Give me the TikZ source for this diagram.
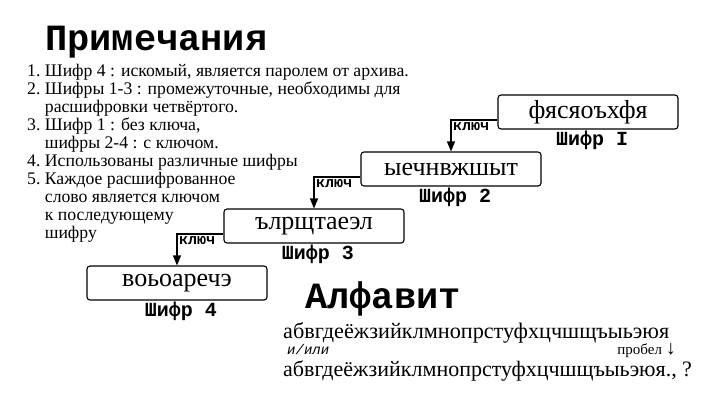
\documentclass[tikz,border=0pt]{standalone}
\usepackage{fontspec}
\setmainfont{Liberation Serif}
\setmonofont{Liberation Mono}
\usetikzlibrary{positioning,arrows.meta}
\tikzset{
  cipher/.style={draw,line width=1.1pt,rounded corners=3pt,minimum width=180pt,minimum height=34pt,inner sep=2pt,font=\fontsize{26}{26}\selectfont},
  ciphername/.style={inner sep=0pt,font=\ttfamily\bfseries\fontsize{20}{20}\selectfont},
  keylabel/.style={inner sep=1.5pt,font=\ttfamily\bfseries\fontsize{15}{15}\selectfont},
  heading/.style={inner sep=0pt,font=\ttfamily\bfseries\fontsize{37}{37}\selectfont},
  plain/.style={inner sep=0pt,font=\fontsize{17.7}{18}\selectfont},
}

\begin{document}
\begin{tikzpicture}[x=1pt,y=-1pt,on grid,>={Triangle[width=8pt,length=10pt]}]
\useasboundingbox (0,0) rectangle (711,400);
% notes
\node[heading,anchor=base west] (notetitle) at (45,50) {Примечания};
\node[plain,anchor=base west] (notes) at (27,76) {%
  \begin{tabular}[t]{@{}r@{\ }l@{}}
  1. & Шифр 4 : искомый, является паролем от архива.\\
  2. & Шифры 1-3 : промежуточные, необходимы для\\
     & расшифровки четвёртого.\\
  3. & Шифр 1 : без ключа,\\
     & шифры 2-4 : с ключом.\\
  4. & Использованы различные шифры\\
  5. & Каждое расшифрованное\\
     & слово является ключом\\
     & к последующему\\
     & шифру
  \end{tabular}};
% ciphers
\node[cipher] (c1) at (588,112) {фясяоъхфя};
\node[cipher] (c2) [below left=57pt and 137pt of c1] {ыечнвжшыт};
\node[cipher] (c3) [below left=57pt and 137pt of c2] {ълрщтаеэл};
\node[cipher] (c4) [below left=57pt and 137pt of c3] {воьоаречэ};
\node[ciphername] (n1) [below right=28pt and 4pt of c1] {Шифр I};
\node[ciphername] (n2) [below right=28pt and 4pt of c2] {Шифр 2};
\node[ciphername] (n3) [below right=28pt and 4pt of c3] {Шифр 3};
\node[ciphername] (n4) [below right=28pt and 4pt of c4] {Шифр 4};
\draw[->,line width=1.1pt] ([yshift=-8pt]c1.west) -| node[pos=0.5,keylabel,anchor=north west] {ключ} (c2.north);
\draw[->,line width=1.1pt] ([yshift=-8pt]c2.west) -| node[pos=0.5,keylabel,anchor=north west] {ключ} (c3.north);
\draw[->,line width=1.1pt] ([yshift=-8pt]c3.west) -| node[pos=0.5,keylabel,anchor=north west] {ключ} (c4.north);
% alphabet
\node[heading,anchor=base west] (alphatitle) at (305,308) {Алфавит};
\node[plain,anchor=base west,font=\fontsize{22.2}{22}\selectfont] (alpha1) at (283,338) {абвгдеёжзийклмнопрстуфхцчшщъыьэюя};
\node[plain,anchor=base west,font=\ttfamily\itshape\fontsize{14}{14}\selectfont] (andor) at (287,354) {и/или};
\node[plain,anchor=base east,font=\fontsize{15}{15}\selectfont] (space) at (676,354) {пробел {\fontsize{20}{20}\selectfont↓}};
\node[plain,anchor=base west,font=\fontsize{22}{22}\selectfont] (alpha2) at (283,376) {абвгдеёжзийклмнопрстуфхцчшщъыьэюя., ?};
\end{tikzpicture}
\end{document}
